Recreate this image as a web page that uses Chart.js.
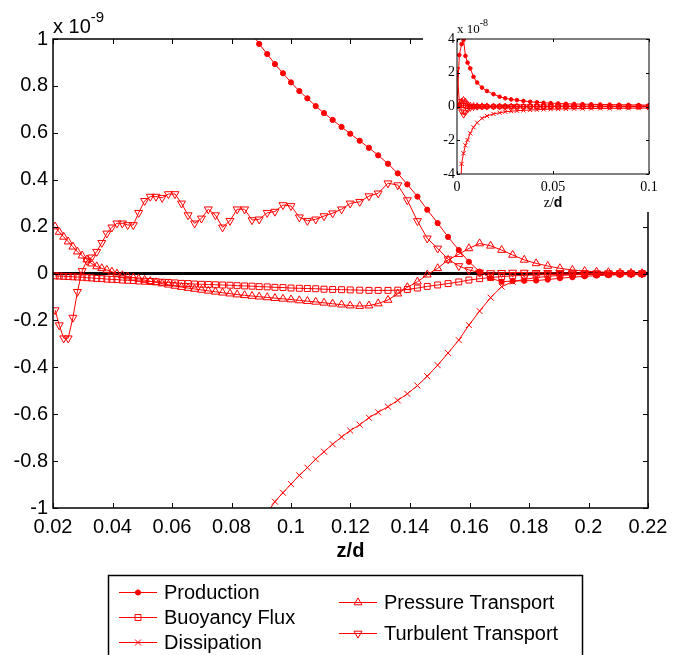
<!DOCTYPE html>
<html>
<head>
<meta charset="utf-8">
<script src="https://cdn.jsdelivr.net/npm/chart.js@4/dist/chart.umd.min.js"></script>
<style>
  body { margin: 0; background: #fff; }
  #wrap { position: relative; width: 675px; height: 655px; overflow: hidden; }
  #main { position: absolute; left: 0; top: 0; }
  #inset { position: absolute; left: 440px; top: 0; background: #fff; }
  #gap { position: absolute; left: 423px; top: 30px; width: 17px; height: 16px; background: #fff; }
</style>
</head>
<body>
<div id="wrap">
  <canvas id="main" width="675" height="655"></canvas>
  <div id="gap"></div>
  <canvas id="inset" width="235" height="212"></canvas>
</div>
<script>
// ---- main plot data (z/d, budget terms in units of 1e-9) ----
const zValues = [0.0207, 0.0221, 0.0236, 0.0251, 0.0267, 0.0282, 0.0298, 0.0314, 0.0330, 0.0347,
  0.0364, 0.0381, 0.0398, 0.0415, 0.0433, 0.0451, 0.0470, 0.0488, 0.0508, 0.0527,
  0.0546, 0.0567, 0.0588, 0.0610, 0.0632, 0.0654, 0.0676, 0.0699, 0.0722, 0.0746,
  0.0770, 0.0795, 0.0819, 0.0844, 0.0869, 0.0893, 0.0920, 0.0946, 0.0973, 0.1000,
  0.1028, 0.1055, 0.1083, 0.1111, 0.1140, 0.1170, 0.1199, 0.1231, 0.1262, 0.1293,
  0.1326, 0.1359, 0.1391, 0.1425, 0.1458, 0.1493, 0.1528, 0.1564, 0.1598, 0.1634,
  0.1671, 0.1708, 0.1745, 0.1784, 0.1824, 0.1863, 0.1904, 0.1946, 0.1987, 0.2027,
  0.2067, 0.2106, 0.2143, 0.2180];

const production = [null, null, null, null, null, null, null, null, null, null,
  null, null, null, null, null, null, null, null, null, null,
  null, null, null, null, null, null, null, null, null, null,
  null, null, null, null, 1.022, 0.979, 0.936, 0.893, 0.854, 0.815,
  0.778, 0.747, 0.714, 0.684, 0.655, 0.625, 0.596, 0.566, 0.536, 0.504,
  0.468, 0.427, 0.380, 0.328, 0.272, 0.215, 0.156, 0.100, 0.050, 0.008,
  -0.020, -0.035, -0.032, -0.031, -0.030, -0.026, -0.020, -0.016, -0.012, -0.009,
  -0.007, -0.005, -0.004, -0.003];

const buoyancy = [-0.010, -0.011, -0.012, -0.013, -0.014, -0.015, -0.016, -0.018, -0.019, -0.021,
  -0.022, -0.024, -0.025, -0.026, -0.028, -0.029, -0.030, -0.032, -0.033, -0.034,
  -0.035, -0.037, -0.038, -0.040, -0.042, -0.043, -0.045, -0.046, -0.047, -0.048,
  -0.049, -0.050, -0.052, -0.053, -0.054, -0.056, -0.057, -0.059, -0.060, -0.062,
  -0.063, -0.064, -0.065, -0.067, -0.068, -0.069, -0.070, -0.071, -0.072, -0.072,
  -0.072, -0.071, -0.068, -0.062, -0.055, -0.049, -0.043, -0.036, -0.028, -0.022,
  -0.017, -0.013, -0.010, -0.008, -0.006, -0.005, -0.004, -0.003, -0.003, -0.002,
  -0.002, -0.001, -0.001, -0.001];

const dissipation = [null, null, null, null, null, null, null, null, null, null,
  null, null, null, null, null, null, null, null, null, null,
  null, null, null, null, null, null, null, null, null, null,
  null, null, null, null, null, null, -1.020, -0.973, -0.935, -0.898,
  -0.861, -0.828, -0.792, -0.760, -0.728, -0.697, -0.670, -0.645, -0.615, -0.592,
  -0.568, -0.541, -0.513, -0.478, -0.438, -0.391, -0.339, -0.284, -0.220, -0.160,
  -0.103, -0.056, -0.035, -0.025, -0.018, -0.012, -0.008, -0.006, -0.004, -0.003,
  -0.002, -0.002, -0.001, -0.001];

const pressure = [0.200, 0.177, 0.156, 0.136, 0.114, 0.093, 0.076, 0.059, 0.042, 0.030,
  0.022, 0.015, 0.007, -0.001, -0.008, -0.013, -0.018, -0.023, -0.028, -0.033,
  -0.038, -0.043, -0.048, -0.053, -0.058, -0.062, -0.066, -0.070, -0.074, -0.078,
  -0.082, -0.086, -0.090, -0.093, -0.096, -0.099, -0.102, -0.105, -0.108, -0.111,
  -0.115, -0.118, -0.121, -0.125, -0.129, -0.133, -0.137, -0.139, -0.137, -0.128,
  -0.113, -0.086, -0.059, -0.035, -0.005, 0.022, 0.058, 0.082, 0.107, 0.128,
  0.118, 0.100, 0.079, 0.058, 0.043, 0.032, 0.022, 0.015, 0.010, 0.007,
  0.005, 0.003, 0.002, 0.001];

const turbulent = [-0.156, -0.220, -0.276, -0.276, -0.188, -0.078, 0.011, 0.055, 0.069, 0.093,
  0.131, 0.171, 0.197, 0.214, 0.214, 0.207, 0.207, 0.259, 0.310, 0.328,
  0.328, 0.323, 0.339, 0.339, 0.299, 0.249, 0.214, 0.235, 0.274, 0.249,
  0.197, 0.225, 0.274, 0.274, 0.228, 0.231, 0.259, 0.264, 0.292, 0.288,
  0.240, 0.225, 0.231, 0.245, 0.257, 0.274, 0.299, 0.306, 0.330, 0.342,
  0.385, 0.377, 0.313, 0.224, 0.150, 0.107, 0.061, 0.032, 0.015, 0.004,
  0.002, 0.003, 0.004, 0.004, 0.003, 0.003, 0.002, 0.002, 0.002, 0.001,
  0.001, 0.001, 0.000, 0.000];

const seriesNames = ['Production', 'Buoyancy Flux', 'Dissipation', 'Pressure Transport', 'Turbulent Transport'];

const xTickValues = [0.02, 0.04, 0.06, 0.08, 0.1, 0.12, 0.14, 0.16, 0.18, 0.2, 0.22];
const xTickLabels = ['0.02', '0.04', '0.06', '0.08', '0.1', '0.12', '0.14', '0.16', '0.18', '0.2', '0.22'];
const yTickValues = [-1, -0.8, -0.6, -0.4, -0.2, 0, 0.2, 0.4, 0.6, 0.8, 1];
const yTickLabels = ['-1', '-0.8', '-0.6', '-0.4', '-0.2', '0', '0.2', '0.4', '0.6', '0.8', '1'];

// ---- inset data (near wall, units of 1e-8) ----
const insetZ = [0, 0.0012, 0.0024, 0.0034, 0.0044, 0.0055, 0.0069, 0.0086, 0.0105, 0.0130,
  0.0156, 0.0190, 0.0222, 0.0251, 0.0282, 0.0312, 0.0346, 0.0381, 0.0416, 0.0451,
  0.0488, 0.0527, 0.0567, 0.0610, 0.0654, 0.0699, 0.0746, 0.0795, 0.0844, 0.0893,
  0.0946, 0.1000];
const insetProduction = [0, 3.05, 3.7, 3.95, 3.0, 2.6, 2.26, 1.76, 1.42, 1.12,
  0.92, 0.73, 0.58, 0.49, 0.42, 0.38, 0.33, 0.28, 0.25, 0.22,
  0.20, 0.18, 0.16, 0.15, 0.14, 0.13, 0.12, 0.11, 0.105, 0.098,
  0.089, 0.080];
const insetBuoyancy = [0, 0.05, 0.08, 0.06, 0.03, 0.01, 0.0, -0.003, -0.004, -0.004,
  -0.003, -0.002, -0.001, -0.001, -0.002, -0.002, -0.002, -0.003, -0.003, -0.003,
  -0.003, -0.003, -0.004, -0.004, -0.004, -0.004, -0.005, -0.005, -0.005, -0.005,
  -0.006, -0.006];
const insetDissipation = [-9, -7, -3.4, -2.77, -2.3, -1.98, -1.59, -1.23, -0.96, -0.70,
  -0.56, -0.44, -0.37, -0.31, -0.28, -0.25, -0.23, -0.21, -0.19, -0.17,
  -0.16, -0.15, -0.14, -0.13, -0.125, -0.12, -0.115, -0.11, -0.107, -0.102,
  -0.097, -0.09];
const insetPressure = [0, 0.1, 0.3, 0.4, 0.3, 0.15, 0.07, 0.04, 0.03, 0.025,
  0.022, 0.02, 0.018, 0.014, 0.009, 0.006, 0.003, 0.002, 0.0, -0.001,
  -0.002, -0.003, -0.004, -0.005, -0.006, -0.007, -0.008, -0.009, -0.009, -0.010,
  -0.011, -0.011];
const insetTurbulent = [2.2, 0.3, -0.3, -0.5, -0.35, -0.2, -0.1, -0.05, -0.03, -0.02,
  -0.02, -0.018, -0.022, -0.028, -0.008, 0.006, 0.009, 0.017, 0.021, 0.021,
  0.026, 0.033, 0.033, 0.034, 0.025, 0.023, 0.024, 0.025, 0.027, 0.023,
  0.026, 0.029];
const insetXTicks = [0, 0.05, 0.1];
const insetXLabels = ['0', '0.05', '0.1'];
const insetYTicks = [-4, -2, 0, 2, 4];
const insetYLabels = ['-4', '-2', '0', '2', '4'];

const RED = '#ff0000';
const SANS = "'Liberation Sans', Arial, sans-serif";
const SERIF = "'Liberation Serif', 'Times New Roman', serif";

// marker per series: dot, square, x, up-triangle, down-triangle
const markers = [
  { style: 'circle', r: 2.6, rot: 0, fill: RED },
  { style: 'rect', r: 4.2, rot: 0, fill: 'rgba(0,0,0,0)' },
  { style: 'crossRot', r: 4.2, rot: 0, fill: 'rgba(0,0,0,0)' },
  { style: 'triangle', r: 4.6, rot: 0, fill: 'rgba(0,0,0,0)' },
  { style: 'triangle', r: 4.6, rot: 180, fill: 'rgba(0,0,0,0)' }
];

function makeDatasets(xs, series, k) {
  return series.map((vals, i) => ({
    label: seriesNames[i],
    data: xs.map((x, j) => ({ x: x, y: vals[j] })),
    borderColor: RED,
    borderWidth: 1,
    pointStyle: markers[i].style,
    pointRadius: markers[i].r * k,
    pointRotation: markers[i].rot,
    pointBackgroundColor: markers[i].fill,
    pointBorderColor: RED,
    pointBorderWidth: 1,
    fill: false,
    tension: 0
  }));
}

// box round the plot, inward ticks on all four sides, optional zero line
const frame = {
  id: 'frame',
  beforeDatasetsDraw(chart, args, o) {
    if (!o.zeroWidth) return;
    const { ctx, chartArea: a, scales } = chart;
    const y0 = scales.y.getPixelForValue(0);
    ctx.save();
    ctx.strokeStyle = '#000';
    ctx.lineWidth = o.zeroWidth;
    ctx.beginPath();
    ctx.moveTo(a.left, y0);
    ctx.lineTo(a.right, y0);
    ctx.stroke();
    ctx.restore();
  },
  afterDatasetsDraw(chart, args, o) {
    const { ctx, chartArea: a, scales } = chart;
    ctx.save();
    ctx.strokeStyle = '#000';
    ctx.lineWidth = o.lineWidth;
    ctx.strokeRect(a.left, a.top, a.right - a.left, a.bottom - a.top);
    ctx.lineWidth = 1;
    ctx.beginPath();
    scales.x.ticks.forEach(t => {
      const px = Math.round(scales.x.getPixelForValue(t.value)) + 0.5;
      ctx.moveTo(px, a.bottom); ctx.lineTo(px, a.bottom - o.tick);
      ctx.moveTo(px, a.top); ctx.lineTo(px, a.top + o.tick);
    });
    scales.y.ticks.forEach(t => {
      const py = Math.round(scales.y.getPixelForValue(t.value)) + 0.5;
      ctx.moveTo(a.left, py); ctx.lineTo(a.left + o.tick, py);
      ctx.moveTo(a.right, py); ctx.lineTo(a.right - o.tick, py);
    });
    ctx.stroke();
    ctx.restore();
  }
};

function drawParts(ctx, parts, x, baseline, align) {
  let total = 0;
  parts.forEach(p => { ctx.font = p.font; p.w = ctx.measureText(p.text).width; total += p.w; });
  let cx = align === 'center' ? x - total / 2 : x;
  parts.forEach(p => {
    ctx.font = p.font;
    ctx.fillText(p.text, cx, baseline + (p.dy || 0));
    cx += p.w;
  });
}

// exponent note, axis title and the boxed legend of the main plot
const mainText = {
  id: 'mainText',
  afterDraw(chart) {
    const { ctx, chartArea: a } = chart;
    ctx.save();
    ctx.fillStyle = '#000';
    ctx.textBaseline = 'alphabetic';
    drawParts(ctx, [
      { text: 'x 10', font: '20px ' + SANS },
      { text: '-9', font: '15px ' + SANS, dy: -11 }
    ], a.left, 33, 'left');
    drawParts(ctx, [{ text: 'z/d', font: 'bold 20px ' + SANS }], (a.left + a.right) / 2, 557, 'center');

    // legend
    ctx.strokeStyle = '#000';
    ctx.lineWidth = 1.5;
    ctx.strokeRect(108.5, 575.5, 474, 100);
    const slots = [[119, 592], [119, 617], [119, 642], [339, 602], [339, 633]];
    chart.data.datasets.forEach((ds, i) => {
      const [lx, ly] = slots[i];
      ctx.strokeStyle = RED;
      ctx.lineWidth = 1;
      ctx.beginPath();
      ctx.moveTo(lx, ly + 0.5);
      ctx.lineTo(lx + 38, ly + 0.5);
      ctx.stroke();
      ctx.fillStyle = ds.pointBackgroundColor;
      Chart.helpers.drawPoint(ctx, {
        pointStyle: ds.pointStyle, radius: ds.pointRadius,
        rotation: ds.pointRotation, borderWidth: 1
      }, lx + 19, ly + 0.5);
      ctx.fillStyle = '#000';
      ctx.font = '20px ' + SANS;
      ctx.textBaseline = 'middle';
      ctx.fillText(ds.label, lx + 45, ly + 1);
    });
    ctx.restore();
  }
};

const insetText = {
  id: 'insetText',
  afterDraw(chart) {
    const { ctx, chartArea: a } = chart;
    ctx.save();
    ctx.fillStyle = '#000';
    ctx.textBaseline = 'alphabetic';
    drawParts(ctx, [
      { text: 'x 10', font: '13px ' + SERIF },
      { text: '-8', font: '10px ' + SERIF, dy: -7 }
    ], a.left, 33, 'left');
    drawParts(ctx, [
      { text: 'z/', font: '14px ' + SERIF },
      { text: 'd', font: 'bold 14px ' + SANS }
    ], (a.left + a.right) / 2, 207, 'center');
    ctx.restore();
  }
};

function axis(min, max, values, labels, fitKey, fitSize, font, pad) {
  return {
    type: 'linear', min: min, max: max,
    grid: { display: false, drawTicks: false },
    border: { display: false },
    afterBuildTicks: s => { s.ticks = values.map(v => ({ value: v })); },
    afterFit: s => { s[fitKey] = fitSize; },
    ticks: {
      autoSkip: false, maxRotation: 0, color: '#000', padding: pad, font: font,
      callback: (v, i) => labels[i]
    }
  };
}

new Chart(document.getElementById('main'), {
  type: 'line',
  data: { datasets: makeDatasets(zValues, [production, buoyancy, dissipation, pressure, turbulent], 1) },
  options: {
    responsive: false,
    animation: false,
    layout: { padding: { left: 0, right: 27, top: 39, bottom: 87 } },
    plugins: {
      legend: { display: false },
      tooltip: { enabled: false },
      frame: { zeroWidth: 3, lineWidth: 1.5, tick: 5 }
    },
    scales: {
      x: axis(0.02, 0.22, xTickValues, xTickLabels, 'height', 60, { family: SANS, size: 20 }, 7),
      y: axis(-1, 1, yTickValues, yTickLabels, 'width', 53, { family: SANS, size: 20 }, 5)
    }
  },
  plugins: [frame, mainText]
});

new Chart(document.getElementById('inset'), {
  type: 'line',
  data: { datasets: makeDatasets(insetZ, [insetProduction, insetBuoyancy, insetDissipation, insetPressure, insetTurbulent], 0.7) },
  options: {
    responsive: false,
    animation: false,
    layout: { padding: { left: 0, right: 26, top: 39, bottom: 0 } },
    plugins: {
      legend: { display: false },
      tooltip: { enabled: false },
      frame: { zeroWidth: 0, lineWidth: 1, tick: 3 }
    },
    scales: {
      x: axis(0, 0.1, insetXTicks, insetXLabels, 'height', 38, { family: SERIF, size: 14 }, 5),
      y: axis(-4, 4, insetYTicks, insetYLabels, 'width', 17, { family: SERIF, size: 14 }, 2)
    }
  },
  plugins: [frame, insetText]
});
</script>
</body>
</html>
